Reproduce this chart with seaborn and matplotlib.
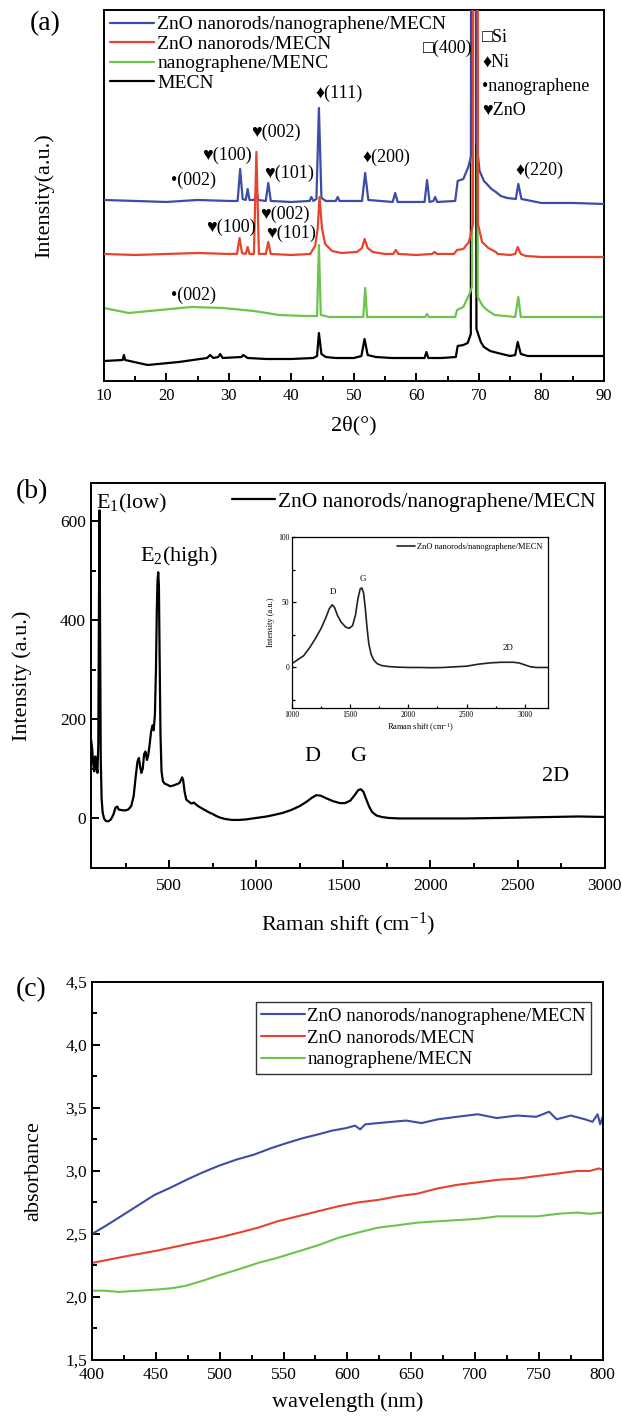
import matplotlib
matplotlib.use("Agg")
import numpy as np
import pandas as pd
import matplotlib.pyplot as plt
import seaborn as sns
from matplotlib.ticker import MultipleLocator, FuncFormatter, NullLocator

sns.set_theme(style="ticks")
plt.rcParams['font.family'] = ['Liberation Serif', 'DejaVu Serif', 'DejaVu Sans']
plt.rcParams['mathtext.fontset'] = 'custom'
plt.rcParams['mathtext.rm'] = 'Liberation Serif'
plt.rcParams['mathtext.it'] = 'Liberation Serif:italic'
plt.rcParams['axes.edgecolor'] = 'black'
plt.rcParams['xtick.color'] = 'black'
plt.rcParams['ytick.color'] = 'black'
plt.rcParams['text.color'] = 'black'
plt.rcParams['axes.labelcolor'] = 'black'

BLUE = "#3c4ca8"
RED = "#e8432c"
GREEN = "#6cc44c"
BLACK = "#000000"

# ---------------- (a) XRD ----------------
xrd_labels = ["ZnO nanorods/nanographene/MECN", "ZnO nanorods/MECN",
              "nanographene/MENC", "MECN"]
xrd_offsets = [180, 127, 64, 22]
xrd_z = [3, 4, 2, 1]

xrd_blue_x = [10, 15, 20, 25, 30, 31.4, 31.8, 32.2, 32.7, 33.0, 33.3, 34.1, 34.4, 34.7,
              35.9, 36.3, 36.7, 40, 42.9, 43.2, 43.5, 44.0, 44.4, 44.8, 45.5, 47.1, 47.4,
              47.7, 51.3, 51.8, 52.3, 56.2, 56.6, 57.0, 61.3, 61.7, 62.1, 62.7, 63.0, 63.3,
              66.2, 66.6, 67.5, 68.3, 68.75, 68.9, 69.2, 69.6, 70.1, 70.8, 72.0, 72.7, 73.5,
              74.5, 75.9, 76.3, 76.8, 80, 85, 90]
xrd_blue_y = [1, 0, -1, 1, 0, 0, 32, 2, 1, 12, 1, 1, 10, 1,
              0, 18, 0, -1, 0, 4, 0, 2, 93, 3, 0, 0, 4,
              0, 0, 28, 1, -1, 8, -1, -1, 21, -1, 0, 4, -1,
              0, 20, 22, 34, 45, 2000, 2000, 60, 30, 20, 12, 9, 5,
              3, 2, 17, 2, -2, -2, -3]

xrd_red_x = [10, 15, 20, 25, 30, 31.3, 31.7, 32.1, 32.7, 33.0, 33.3, 34.0, 34.4, 34.8,
             35.9, 36.3, 36.7, 40, 43, 43.8, 44.2, 44.5, 44.9, 45.4, 46.5, 48, 50.5,
             51.3, 51.7, 52.2, 53, 55, 56.3, 56.7, 57.1, 60, 62.5, 62.9, 63.3, 66,
             66.5, 67.5, 68.4, 69.05, 69.2, 69.5, 69.85, 70.5, 71.5, 72.4, 72.7, 73.0,
             75, 75.8, 76.2, 76.7, 77.5, 80, 85, 90]
xrd_red_y = [0, -1, 0, 1, 0, 0, 16, 1, 0, 7, 0, 0, 102, 0,
             0, 12, 0, -1, 0, 8, 25, 57, 25, 10, 3, 1, 2,
             6, 15, 6, 2, 0, 0, 4, 0, -1, 0, 2, 0, 0,
             4, 5, 12, 30, 2000, 2000, 30, 12, 6, 3, 2, 0,
             -1, 0, 7, 0, -2, -3, -3, -3]

xrd_green_x = [10, 14, 19, 24, 29, 34, 38, 42, 44.1, 44.4, 44.7, 46, 50, 51.5, 51.8,
               52.1, 55, 61.4, 61.7, 62.0, 66.2, 66.5, 67.5, 68.4, 68.9, 69.05, 69.35,
               69.8, 70.6, 71.3, 72.5, 75.8, 76.3, 76.7, 80, 85, 90]
xrd_green_y = [9, 4, 7, 10, 9, 6, 2, 1, 1, 72, 2, 0, 0, 0, 29,
               0, 0, 0, 3, 0, 0, 7, 10, 22, 30, 2000, 2000,
               20, 11, 7, 2, 0, 20, 0, 0, 0, 0]

xrd_black_x = [10, 13, 13.2, 13.4, 17, 22, 26.5, 27, 27.5, 28.3, 28.6, 29, 32, 32.3, 33,
               36, 40, 43.5, 44.1, 44.4, 44.8, 45.5, 47, 50, 51.2, 51.7, 52.2, 53.5, 56,
               61.3, 61.6, 61.9, 64, 66.3, 66.6, 67.5, 68.2, 68.7, 68.95, 69.2, 69.6, 70.3,
               70.8, 71.8, 73, 75, 75.8, 76.2, 76.7, 77.8, 80, 85, 90]
xrd_black_y = [-2, -1, 4, -1, -6, -3, 1, 4, 1, 2, 5, 1, 2, 4, 1,
               0, 0, 1, 3, 26, 5, 2, 1, 1, 3, 20, 4, 2, 1,
               1, 7, 1, 1, 2, 13, 14, 16, 25, 2000, 2000, 30, 17,
               12, 8, 6, 3, 4, 17, 5, 3, 3, 3, 3]

xrd_x = [xrd_blue_x, xrd_red_x, xrd_green_x, xrd_black_x]
xrd_y = [xrd_blue_y, xrd_red_y, xrd_green_y, xrd_black_y]
xrd_colors = [BLUE, RED, GREEN, BLACK]

# annotations (text, 2theta, intensity)
xrd_notes = ["\u2022(002)", "\u2665(100)", "\u2665(002)", "\u2665(101)", "\u2666(111)",
             "\u2666(200)", "\u2666(220)", "\u25a1(400)", "\u25a1Si", "\u2666Ni",
             "\u2022nanographene", "\u2665ZnO", "\u2665(002)", "\u2665(100)",
             "\u2665(101)", "\u2022(002)"]
xrd_note_x = [20.7, 25.7, 33.5, 35.6, 43.8, 51.4, 75.9, 61.0, 70.5, 70.5, 70.5, 70.5,
              35.0, 26.3, 36.0, 20.7]
xrd_note_y = [201, 226, 249, 208, 288, 224, 211, 333, 343, 319, 294, 271,
              167, 154, 148, 86]

# ---------------- (b) Raman ----------------
raman_x = [52, 58, 64, 70, 76, 82, 88, 93, 97, 100, 103, 107, 112, 118, 126, 136, 150,
           165, 180, 192, 202, 210, 225, 245, 265, 282, 296, 308, 318, 326, 333, 340,
           348, 356, 364, 372, 380, 388, 396, 404, 411, 418, 424, 429, 433, 437, 441,
           445, 450, 456, 464, 475, 490, 505, 520, 535, 550, 560, 568, 574, 580, 588,
           598, 612, 628, 642, 655, 670, 690, 710, 730, 750, 770, 790, 820, 860, 900,
           940, 980, 1020, 1060, 1100, 1150, 1200, 1250, 1290, 1320, 1345, 1370, 1400,
           1440, 1480, 1510, 1540, 1565, 1585, 1600, 1615, 1630, 1648, 1665, 1690, 1720,
           1760, 1820, 1900, 2000, 2200, 2400, 2550, 2700, 2850, 3000]
raman_y = [158, 140, 110, 95, 125, 110, 92, 150, 450, 622, 400, 120, 40, 12, 0, -5, -6,
           -2, 8, 22, 24, 18, 17, 16, 18, 25, 45, 85, 115, 122, 105, 92,
           100, 130, 135, 118, 128, 150, 175, 188, 178, 210, 300, 420, 480, 497, 470,
           330, 170, 95, 75, 70, 68, 65, 66, 68, 70, 72, 78, 83, 78, 55,
           38, 34, 30, 32, 28, 24, 20, 16, 12, 9, 5, 2, -1, -3, -3,
           -2, 0, 2, 4, 7, 11, 17, 25, 34, 42, 47, 46, 41,
           35, 31, 31, 36, 47, 57, 59, 54, 40, 24, 13, 6, 3,
           1, 0, 0, 0, 0, 1, 2, 3, 4, 3]
raman_notes = ["E$_1$(low)", "E$_2$(high)", "D", "G", "2D"]
raman_note_x = [80, 334, 1325, 1587, 2716]
raman_note_y = [636, 530, 125, 125, 85]

inset_x = [1000, 1050, 1100, 1150, 1200, 1250, 1290, 1320, 1345, 1365, 1390, 1420, 1460,
           1490, 1520, 1545, 1565, 1585, 1600, 1615, 1630, 1645, 1660, 1680, 1700, 1730,
           1770, 1820, 1900, 2000, 2100, 2200, 2300, 2400, 2500, 2600, 2700, 2800, 2900,
           2950, 3000, 3050, 3100, 3150, 3200]
inset_y = [3, 6, 9, 15, 22, 30, 38, 45, 48, 46, 40, 35, 31,
           30, 32, 40, 52, 60, 61, 57, 45, 30, 18, 10, 6, 3,
           1.5, 0.8, 0.3, 0, 0, -0.2, 0, 0.5, 1, 2.5, 3.5, 4, 4,
           3.5, 2, 0.5, 0, 0, 0]
inset_notes = ["D", "G", "2D"]
inset_note_x = [1351, 1605, 2860]
inset_note_y = [58, 68, 15]

# ---------------- (c) absorbance ----------------
uv_labels = ["ZnO nanorods/nanographene/MECN", "ZnO nanorods/MECN", "nanographene/MECN"]
uv_blue_x = [400, 410, 421, 435, 449, 462, 474, 487, 499, 513, 527, 540, 552, 565, 577,
             588, 599, 606, 610, 614, 624, 635, 646, 658, 671, 686, 702, 717, 733, 748,
             758, 764, 775, 786, 792, 796, 798, 800]
uv_blue_y = [2.50, 2.56, 2.63, 2.72, 2.81, 2.87, 2.93, 2.99, 3.04, 3.09, 3.13, 3.18, 3.22,
             3.26, 3.29, 3.32, 3.34, 3.36, 3.33, 3.37, 3.38, 3.39, 3.40, 3.38, 3.41, 3.43,
             3.45, 3.42, 3.44, 3.43, 3.47, 3.41, 3.44, 3.41, 3.39, 3.45, 3.37, 3.43]
uv_red_x = [400, 425, 452, 475, 499, 515, 530, 545, 561, 577, 593, 608, 624, 640, 655,
            670, 686, 702, 718, 734, 749, 765, 780, 790, 797, 800]
uv_red_y = [2.27, 2.32, 2.37, 2.42, 2.47, 2.51, 2.55, 2.60, 2.64, 2.68, 2.72, 2.75, 2.77,
            2.80, 2.82, 2.86, 2.89, 2.91, 2.93, 2.94, 2.96, 2.98, 3.00, 3.00, 3.02, 3.01]
uv_green_x = [400, 410, 421, 437, 452, 463, 474, 487, 499, 515, 530, 545, 561, 577, 593,
              608, 624, 640, 655, 670, 686, 702, 718, 734, 749, 765, 780, 790, 800]
uv_green_y = [2.05, 2.05, 2.04, 2.05, 2.06, 2.07, 2.09, 2.13, 2.17, 2.22, 2.27, 2.31, 2.36,
              2.41, 2.47, 2.51, 2.55, 2.57, 2.59, 2.60, 2.61, 2.62, 2.64, 2.64, 2.64, 2.66,
              2.67, 2.66, 2.67]
uv_x = [uv_blue_x, uv_red_x, uv_green_x]
uv_y = [uv_blue_y, uv_red_y, uv_green_y]
uv_colors = [BLUE, RED, GREEN]

# ---------------- figure ----------------
fig = plt.figure(figsize=(6.22, 14.19), dpi=100)
ax_a = fig.add_axes([0.167, 0.7315, 0.804, 0.2615])
ax_b = fig.add_axes([0.146, 0.3883, 0.826, 0.2713])
ax_c = fig.add_axes([0.148, 0.0416, 0.821, 0.2664])
ax_i = fig.add_axes([0.4695, 0.5011, 0.4116, 0.1205])

TICK_FS = 12.5


def style_axes(ax, lw=1.4):
    for s in ax.spines.values():
        s.set_linewidth(lw)
        s.set_color('black')
        s.set_visible(True)
    ax.tick_params(which='both', direction='in', top=False, right=False,
                   width=lw, colors='black')
    ax.tick_params(which='major', length=6)
    ax.tick_params(which='minor', length=3.5)


# (a)
for xs, ys, off, col, lab, z in zip(xrd_x, xrd_y, xrd_offsets, xrd_colors, xrd_labels, xrd_z):
    df = pd.DataFrame({"theta": xs, "I": np.array(ys, float) + off})
    sns.lineplot(data=df, x="theta", y="I", ax=ax_a, color=col, lw=1.6,
                 estimator=None, sort=False, label=lab, zorder=z)
ax_a.set_xlim(10, 90)
ax_a.set_ylim(0, 371)
style_axes(ax_a)
ax_a.xaxis.set_major_locator(MultipleLocator(10))
ax_a.xaxis.set_minor_locator(MultipleLocator(5))
ax_a.yaxis.set_major_locator(NullLocator())
ax_a.yaxis.set_minor_locator(NullLocator())
ax_a.tick_params(axis='x', labelsize=12, pad=5)
ax_a.set_xlabel("2\u03b8(\u00b0)", fontsize=16)
ax_a.set_ylabel("Intensity(a.u.)", fontsize=16)
ax_a.xaxis.set_label_coords(0.5, -0.095)
ax_a.yaxis.set_label_coords(-0.1, 0.5)
for t, x, y in zip(xrd_notes, xrd_note_x, xrd_note_y):
    ax_a.text(x, y, t, fontsize=13, ha='left', va='center', zorder=6)
leg = ax_a.legend(loc='upper left', bbox_to_anchor=(0.0, 1.0), frameon=False,
                  fontsize=14, handlelength=2.3, handletextpad=0.15,
                  labelspacing=0.1, borderaxespad=0.1, borderpad=0.2)
leg.set_zorder(7)
fig.text(30 / 622, 1 - 24 / 1419, "(a)", fontsize=20, ha='left', va='center')

# (b)
df_b = pd.DataFrame({"shift": raman_x, "I": raman_y})
sns.lineplot(data=df_b, x="shift", y="I", ax=ax_b, color=BLACK, lw=1.6,
             estimator=None, sort=False, label="ZnO nanorods/nanographene/MECN")
ax_b.set_xlim(50, 3000)
ax_b.set_ylim(-100, 677)
style_axes(ax_b)
ax_b.xaxis.set_major_locator(MultipleLocator(500))
ax_b.xaxis.set_minor_locator(MultipleLocator(250))
ax_b.yaxis.set_major_locator(MultipleLocator(200))
ax_b.yaxis.set_minor_locator(MultipleLocator(100))
ax_b.tick_params(axis='both', labelsize=TICK_FS)
ax_b.tick_params(axis='x', pad=7)
ax_b.set_xlabel("Raman shift (cm$^{-1}$)", fontsize=16)
ax_b.set_ylabel("Intensity (a.u.)", fontsize=16)
ax_b.xaxis.set_label_coords(0.5, -0.11)
ax_b.yaxis.set_label_coords(-0.115, 0.5)
for t, x, y in zip(raman_notes, raman_note_x, raman_note_y):
    ha = 'left' if t.startswith('E') else 'center'
    ax_b.text(x, y, t, fontsize=16, ha=ha, va='center')
ax_b.legend(loc='upper right', bbox_to_anchor=(1.0, 1.0), frameon=False,
            fontsize=15.5, handlelength=2.0, handletextpad=0.15,
            borderaxespad=0.2, borderpad=0.2)
fig.text(16 / 622, 1 - 492 / 1419, "(b)", fontsize=20, ha='left', va='center')

# inset
df_i = pd.DataFrame({"shift": inset_x, "I": inset_y})
sns.lineplot(data=df_i, x="shift", y="I", ax=ax_i, color="#222222", lw=1.2,
             estimator=None, sort=False, label="ZnO nanorods/nanographene/MECN")
ax_i.set_xlim(1000, 3200)
ax_i.set_ylim(-31, 100)
style_axes(ax_i, lw=0.9)
ax_i.tick_params(which='major', length=3)
ax_i.tick_params(which='minor', length=1.8)
ax_i.xaxis.set_major_locator(MultipleLocator(500))
ax_i.xaxis.set_minor_locator(MultipleLocator(250))
ax_i.yaxis.set_major_locator(MultipleLocator(50))
ax_i.yaxis.set_minor_locator(MultipleLocator(25))
ax_i.tick_params(axis='both', labelsize=5.5, pad=2)
ax_i.set_xlabel("Raman shift (cm$^{-1}$)", fontsize=6, labelpad=2)
ax_i.set_ylabel("Intensity (a.u.)", fontsize=6, labelpad=2)
for t, x, y in zip(inset_notes, inset_note_x, inset_note_y):
    ax_i.text(x, y, t, fontsize=6.5, ha='center', va='center')
ax_i.legend(loc='upper right', frameon=False, fontsize=6, handlelength=2.2,
            handletextpad=0.2, borderaxespad=0.3)
ax_i.set_facecolor('white')

# (c)
for xs, ys, col, lab in zip(uv_x, uv_y, uv_colors, uv_labels):
    df = pd.DataFrame({"wl": xs, "A": ys})
    sns.lineplot(data=df, x="wl", y="A", ax=ax_c, color=col, lw=1.5,
                 estimator=None, sort=False, label=lab)
ax_c.set_xlim(400, 800)
ax_c.set_ylim(1.5, 4.5)
style_axes(ax_c)
ax_c.xaxis.set_major_locator(MultipleLocator(50))
ax_c.xaxis.set_minor_locator(MultipleLocator(25))
ax_c.yaxis.set_major_locator(MultipleLocator(0.5))
ax_c.yaxis.set_minor_locator(MultipleLocator(0.25))
ax_c.yaxis.set_major_formatter(FuncFormatter(lambda v, p: f"{v:.1f}".replace('.', ',')))
ax_c.tick_params(axis='both', labelsize=TICK_FS)
ax_c.tick_params(axis='x', pad=5)
ax_c.set_xlabel("wavelength (nm)", fontsize=16)
ax_c.set_ylabel("absorbance", fontsize=16)
ax_c.xaxis.set_label_coords(0.5, -0.085)
ax_c.yaxis.set_label_coords(-0.095, 0.5)
lc = ax_c.legend(loc='upper right', bbox_to_anchor=(0.978, 0.947), frameon=True,
                 fontsize=13.5, handlelength=2.3, handletextpad=0.15,
                 labelspacing=0.25, borderaxespad=0.0, borderpad=0.3, fancybox=False)
lc.get_frame().set_edgecolor('#333333')
lc.get_frame().set_linewidth(1.0)
lc.get_frame().set_alpha(1)
fig.text(16 / 622, 1 - 990 / 1419, "(c)", fontsize=20, ha='left', va='center')

fig.savefig("out.png", dpi=100, facecolor='white')
